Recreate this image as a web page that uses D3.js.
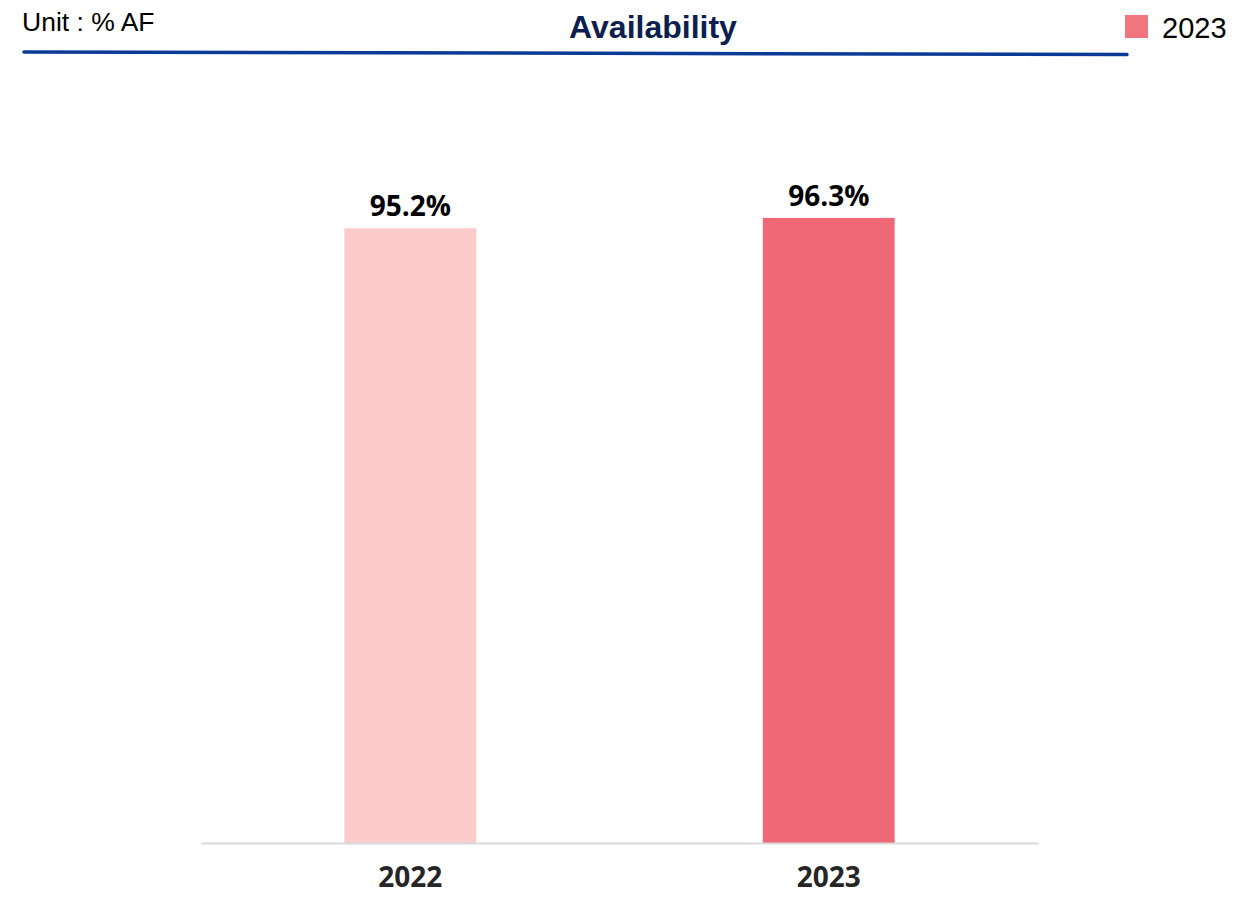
<!DOCTYPE html>
<html>
<head>
<meta charset="utf-8">
<script src="https://cdn.jsdelivr.net/npm/d3@7"></script>
<style>
  html, body { margin: 0; padding: 0; background: #fff; }
  svg { display: block; }
</style>
</head>
<body>
<svg id="chart"></svg>
<script>
const years = ["2022", "2023"];
const availability = [95.2, 96.3];
const barColors = ["#fccbcb", "#ef6876"];
const legendLabels = ["2023"];
const legendColors = ["#f0757f"];
const yDomain = [30, 100];

const width = 1241, height = 897;
const margin = { top: 183, right: 203, bottom: 54, left: 201 };

const svg = d3.select("#chart")
  .attr("width", width)
  .attr("height", height);

// header
svg.append("text")
  .attr("x", 22).attr("y", 31)
  .style("font-family", "Arial, 'Liberation Sans', sans-serif")
  .style("font-size", "26.5px")
  .attr("fill", "#000")
  .text("Unit : % AF");

svg.append("text")
  .attr("x", 653).attr("y", 38)
  .attr("text-anchor", "middle")
  .style("font-family", "Arial, 'Liberation Sans', sans-serif")
  .style("font-size", "32px")
  .style("font-weight", "bold")
  .attr("fill", "#0c1f4f")
  .text("Availability");

svg.append("line")
  .attr("x1", 24).attr("y1", 52)
  .attr("x2", 1127).attr("y2", 54.5)
  .attr("stroke", "#0b3a96")
  .attr("stroke-width", 3.5)
  .attr("stroke-linecap", "round");

const legend = svg.append("g").attr("transform", "translate(1125,15)");
legendLabels.forEach((lbl, i) => {
  legend.append("rect")
    .attr("width", 23).attr("height", 23)
    .attr("fill", legendColors[i]);
  legend.append("text")
    .attr("x", 37).attr("y", 23)
    .style("font-family", "Arial, 'Liberation Sans', sans-serif")
    .style("font-size", "29px")
    .attr("fill", "#000")
    .text(lbl);
});

// scales
const x = d3.scaleBand()
  .domain(years)
  .range([margin.left, width - margin.right])
  .padding(0);

const y = d3.scaleLinear()
  .domain(yDomain)
  .range([height - margin.bottom, margin.top]);

const barW = x.bandwidth() * 0.315;

svg.selectAll(".bar")
  .data(years)
  .enter()
  .append("rect")
  .attr("class", "bar")
  .attr("x", (d) => x(d) + (x.bandwidth() - barW) / 2)
  .attr("y", (d, i) => y(availability[i]))
  .attr("width", barW)
  .attr("height", (d, i) => y(yDomain[0]) - y(availability[i]))
  .attr("fill", (d, i) => barColors[i]);

svg.selectAll(".val")
  .data(years)
  .enter()
  .append("text")
  .attr("class", "val")
  .attr("x", (d) => x(d) + x.bandwidth() / 2)
  .attr("y", (d, i) => y(availability[i]) - 12)
  .attr("text-anchor", "middle")
  .style("font-family", "'Open Sans', sans-serif")
  .style("font-size", "28px")
  .style("font-weight", "bold")
  .attr("fill", "#000")
  .text((d, i) => availability[i].toFixed(1) + "%");

// x axis
const xAxis = d3.axisBottom(x).tickSize(0).tickPadding(24);
const gx = svg.append("g")
  .attr("transform", `translate(0,${y(yDomain[0])})`)
  .call(xAxis);
gx.select(".domain").attr("stroke", "#d9d9d9").attr("stroke-width", 2);
gx.selectAll("text")
  .style("font-family", "'Open Sans', sans-serif")
  .style("font-size", "28px")
  .style("font-weight", "bold")
  .attr("fill", "#262626");
</script>
</body>
</html>
